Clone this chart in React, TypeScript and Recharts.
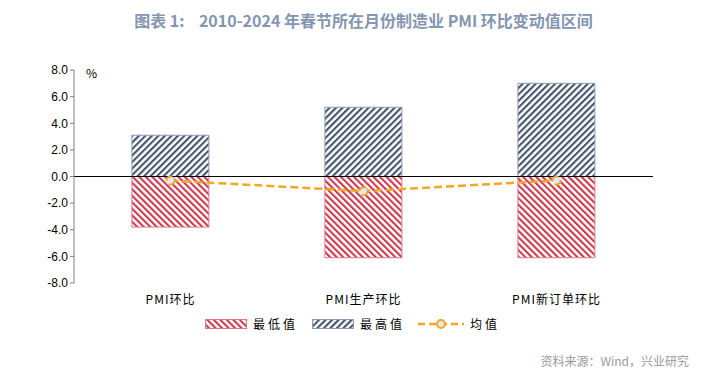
import { ComposedChart, Bar, Line, XAxis, YAxis, ReferenceLine } from 'recharts'

const categories = ['PMI环比', 'PMI生产环比', 'PMI新订单环比']
const lowValues = [-3.8, -6.1, -6.1]
const highValues = [3.1, 5.2, 7.0]
const avgValues = [-0.3, -1.1, -0.3]
const yTicks = [-8, -6, -4, -2, 0, 2, 4, 6, 8]

const RED = '#c93a4f'
const RED_BORDER = '#dc7a88'
const BLUE = '#44546a'
const BLUE_BORDER = '#8d9cb3'
const ORANGE = '#f5a623'
const CN_FONT = '"Noto Sans CJK SC", sans-serif'

const data = categories.map((name, i) => ({
  name,
  low: lowValues[i],
  high: highValues[i],
  avg: avgValues[i],
}))

function Stripes({ id, color, angle }: { id: string; color: string; angle: number }) {
  return (
    <pattern id={id} patternUnits="userSpaceOnUse" width={4.6} height={4.6} patternTransform={`rotate(${angle})`}>
      <rect x={0} y={0} width={2.1} height={4.6} fill={color} />
    </pattern>
  )
}

function LegendBox() {
  const txt = { fontFamily: CN_FONT, fontSize: 12, color: '#000', marginLeft: 6, letterSpacing: 3 }
  return (
    <div style={{ display: 'flex', alignItems: 'center', fontFamily: CN_FONT }}>
      <svg width={42} height={10}>
        <defs><Stripes id="lg-red" color={RED} angle={-45} /></defs>
        <rect x={0.5} y={0.5} width={41} height={9} fill="url(#lg-red)" stroke={RED_BORDER} />
      </svg>
      <span style={txt}>最低值</span>
      <svg width={42} height={10} style={{ marginLeft: 14 }}>
        <defs><Stripes id="lg-blue" color={BLUE} angle={45} /></defs>
        <rect x={0.5} y={0.5} width={41} height={9} fill="url(#lg-blue)" stroke={BLUE_BORDER} />
      </svg>
      <span style={txt}>最高值</span>
      <svg width={46} height={12} style={{ marginLeft: 13 }}>
        <line x1={0} y1={6} x2={46} y2={6} stroke={ORANGE} strokeWidth={2.5} strokeDasharray="7 4" />
        <circle cx={23} cy={6} r={4} fill="#dce9f6" stroke={ORANGE} strokeWidth={2} />
      </svg>
      <span style={txt}>均值</span>
    </div>
  )
}

export default function App() {
  return (
    <div style={{ position: 'absolute', left: 0, top: 0, width: 727, height: 378, background: '#fff' }}>
      <div
        style={{
          position: 'absolute', top: 8, left: 0, width: 727, textAlign: 'center',
          fontFamily: CN_FONT, fontSize: 16, fontWeight: 700, color: '#8496b0',
        }}
      >
        图表 1:&nbsp;&nbsp;&nbsp; 2010-2024 年春节所在月份制造业 PMI 环比变动值区间
      </div>
      <div style={{ position: 'absolute', left: 86, top: 64, fontFamily: CN_FONT, fontSize: 12, color: '#000' }}>%</div>
      <ComposedChart
        width={727}
        height={378}
        data={data}
        stackOffset="sign"
        margin={{ top: 70, right: 74, bottom: 65, left: 34 }}
        barCategoryGap="30%"
      >
        <defs>
          <Stripes id="bar-red" color={RED} angle={-45} />
          <Stripes id="bar-blue" color={BLUE} angle={45} />
        </defs>
        <XAxis
          dataKey="name"
          axisLine={false}
          tickLine={false}
          height={30}
          tick={{ fontFamily: CN_FONT, fontSize: 12, fill: '#000', letterSpacing: 1 }}
          tickMargin={6}
        />
        <YAxis
          width={40}
          domain={[-8, 8]}
          ticks={yTicks}
          interval={0}
          tickFormatter={(v: number) => v.toFixed(1)}
          axisLine={{ stroke: '#808080' }}
          tickLine={{ stroke: '#808080' }}
          tickSize={4}
          tick={{ fontFamily: '"Liberation Sans", Arial, sans-serif', fontSize: 12, fill: '#000' }}
        />
        <Bar dataKey="low" name="最低值" stackId="a" fill="url(#bar-red)" stroke={RED_BORDER} isAnimationActive={false} />
        <Bar dataKey="high" name="最高值" stackId="a" fill="url(#bar-blue)" stroke={BLUE_BORDER} isAnimationActive={false} />
        <ReferenceLine y={0} stroke="#000" strokeWidth={1} />
        <Line
          dataKey="avg"
          name="均值"
          stroke={ORANGE}
          strokeWidth={2.5}
          strokeDasharray="8 4"
          dot={{ r: 4, fill: '#dce9f6', stroke: ORANGE, strokeWidth: 2 }}
          isAnimationActive={false}
        />
      </ComposedChart>
      <div style={{ position: 'absolute', left: 205, top: 315 }}>
        <LegendBox />
      </div>
      <div style={{ position: 'absolute', right: 38, top: 352, fontFamily: CN_FONT, fontSize: 12, color: '#9a9a9a' }}>
        资料来源：Wind，兴业研究
      </div>
    </div>
  )
}
